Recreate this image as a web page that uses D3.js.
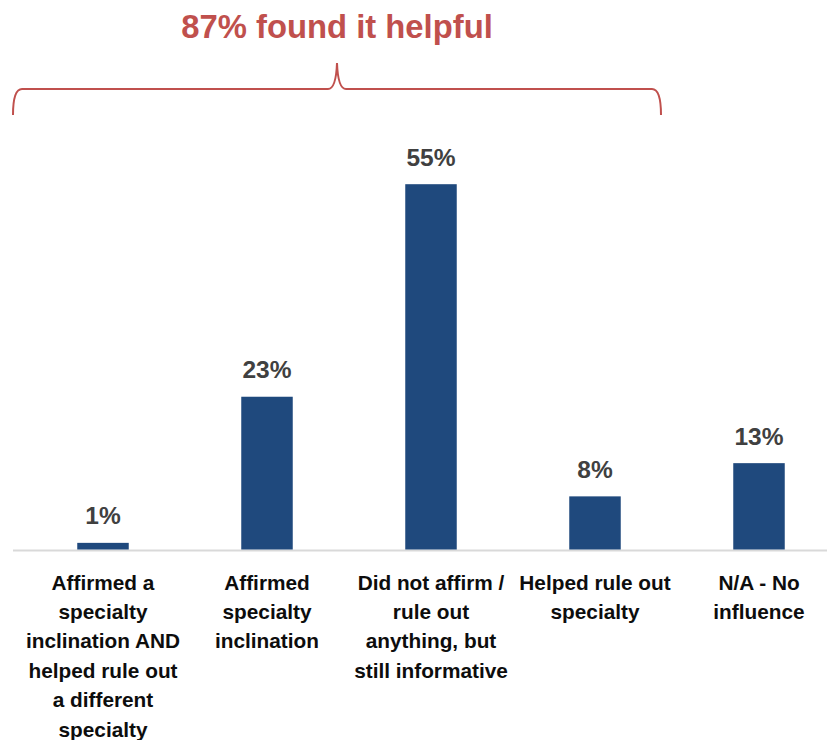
<!DOCTYPE html>
<meta charset="utf-8">
<head>
	<title>Found it helpful</title>
</head>
<style>
	body { margin: 0; background: #fff; }
	svg text { font-family: "Liberation Sans", Arial, sans-serif; font-weight: bold; }
</style>
<body>
<div id="wrapper"></div>
<script src="https://d3js.org/d3.v7.min.js"></script>
<script>

// categories, one entry per line of the wrapped tick label
var categories = [
	["Affirmed a", "specialty", "inclination AND", "helped rule out", "a different", "specialty"],
	["Affirmed", "specialty", "inclination"],
	["Did not affirm /", "rule out", "anything, but", "still informative"],
	["Helped rule out", "specialty"],
	["N/A - No", "influence"]
];
var values = [0.01, 0.23, 0.55, 0.08, 0.13];
var helpfulCount = 4; // first four categories make up the bracket
var title = "87% found it helpful";

var width = 827, height = 740;
var baseY = 549.5;

var svg = d3.select("#wrapper").append("svg")
	.attr("width", width)
	.attr("height", height);

var keys = categories.map(function(d, i) { return i; });

var x = d3.scaleBand()
	.domain(keys)
	.range([21, 841])
	.paddingInner(0.686)
	.paddingOuter(0.343);

var y = d3.scaleLinear()
	.domain([0, 0.55])
	.range([baseY, 184.2]);

// baseline
svg.append("line")
	.attr("x1", 13).attr("x2", width)
	.attr("y1", baseY + 1).attr("y2", baseY + 1)
	.attr("stroke", "#d9d9d9")
	.attr("stroke-width", 2);

// bars
svg.selectAll(".bar")
	.data(values)
	.enter().append("rect")
	.attr("class", "bar")
	.attr("x", function(d, i) { return x(i); })
	.attr("width", x.bandwidth())
	.attr("y", function(d) { return y(d); })
	.attr("height", function(d) { return baseY - y(d); })
	.attr("fill", "#1f497d");

// value labels
svg.selectAll(".value")
	.data(values)
	.enter().append("text")
	.attr("class", "value")
	.attr("x", function(d, i) { return x(i) + x.bandwidth() / 2; })
	.attr("y", function(d) { return y(d) - 18.5; })
	.attr("text-anchor", "middle")
	.attr("fill", "#404040")
	.style("font-size", "24.5px")
	.text(function(d) { return d3.format(".0%")(d); });

// category labels
var labels = svg.selectAll(".cat")
	.data(categories)
	.enter().append("text")
	.attr("class", "cat")
	.attr("text-anchor", "middle")
	.attr("fill", "#0d0d0d")
	.style("font-size", "20.8px");

labels.selectAll("tspan")
	.data(function(d, i) { return d.map(function(t) { return {t: t, i: i}; }); })
	.enter().append("tspan")
	.attr("x", function(d) { return x(d.i) + x.bandwidth() / 2; })
	.attr("y", function(d, j) { return 589.5 + j * 29.4; })
	.text(function(d) { return d.t; });

// bracket over the helpful categories
var bLeft = x(0) + x.bandwidth() / 2 - 90;
var bRight = x(helpfulCount - 1) + x.bandwidth() / 2 + 66;
var bMid = (bLeft + bRight) / 2;
var bTop = 89, bBottom = 115, bPeak = 63;

var path = d3.path();
path.moveTo(bLeft, bBottom);
path.quadraticCurveTo(bLeft, bTop, bLeft + 9, bTop);
path.lineTo(bMid - 9, bTop);
path.quadraticCurveTo(bMid - 1, bTop, bMid, bPeak);
path.quadraticCurveTo(bMid + 1, bTop, bMid + 9, bTop);
path.lineTo(bRight - 9, bTop);
path.quadraticCurveTo(bRight, bTop, bRight, bBottom);

svg.append("path")
	.attr("d", path.toString())
	.attr("fill", "none")
	.attr("stroke", "#c0504d")
	.attr("stroke-width", 2);

svg.append("text")
	.attr("x", bMid)
	.attr("y", 37.5)
	.attr("text-anchor", "middle")
	.attr("fill", "#c0504d")
	.style("font-size", "32.8px")
	.text(title);

</script>
</body>
</html>
